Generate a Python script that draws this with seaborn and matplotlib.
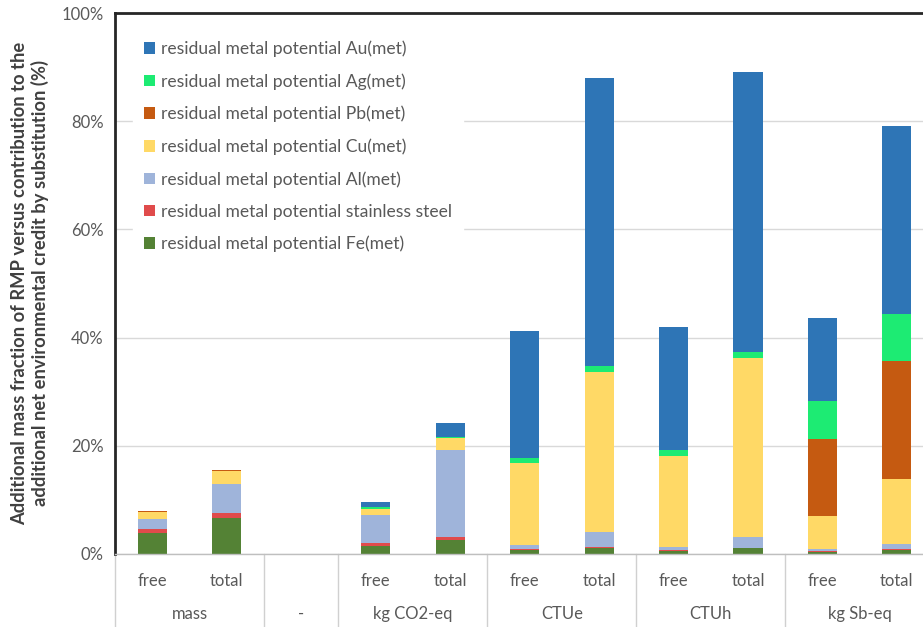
import numpy as np
import pandas as pd
import seaborn as sns
import matplotlib.pyplot as plt
from matplotlib.patches import Patch
from matplotlib.transforms import blended_transform_factory

# categories (one slot per bar, the "-" group has a single empty slot)
groups = ["mass", "-", "kg CO2-eq", "CTUe", "CTUh", "kg Sb-eq"]
group_slots = [["free", "total"], [""], ["free", "total"], ["free", "total"],
               ["free", "total"], ["free", "total"]]

# stacked shares in %, bottom to top
fe = [3.9, 6.6, 0, 1.5, 2.5, 0.7, 1.2, 0.55, 1.1, 0.3, 0.8]
ss = [0.8, 0.9, 0, 0.5, 0.6, 0.2, 0.1, 0.1, 0.1, 0.3, 0.2]
al = [1.8, 5.4, 0, 5.15, 16.1, 0.7, 2.7, 0.65, 2.0, 0.3, 0.85]
cu = [1.3, 2.5, 0, 1.15, 2.2, 15.2, 29.7, 16.8, 33.0, 6.1, 11.95]
pb = [0.1, 0.2, 0, 0, 0, 0, 0, 0, 0, 14.2, 21.9]
ag = [0, 0, 0, 0.3, 0.3, 0.9, 1.1, 1.1, 1.1, 7.1, 8.6]
au = [0, 0, 0, 1.0, 2.5, 23.5, 53.2, 22.8, 51.8, 15.4, 34.8]

series = ["residual metal potential Fe(met)",
          "residual metal potential stainless steel",
          "residual metal potential Al(met)",
          "residual metal potential Cu(met)",
          "residual metal potential Pb(met)",
          "residual metal potential Ag(met)",
          "residual metal potential Au(met)"]
colors = ["#548235", "#E04B4B", "#9FB4DA", "#FFD966", "#C55A11", "#1DEB73", "#2E75B6"]
yticks = [0, 20, 40, 60, 80, 100]

sns.set_theme(style="white")
plt.rcParams["font.family"] = ["Lato", "DejaVu Sans"]
txt_c = "#595959"

slot_keys = []
for g, subs in zip(groups, group_slots):
    for s in subs:
        slot_keys.append(g + "|" + s)

df = pd.DataFrame({"slot": slot_keys})
stack = np.array([fe, ss, al, cu, pb, ag, au])
cum = np.cumsum(stack, axis=0)

fig = plt.figure(figsize=(9.23, 6.27), dpi=100)
ax = fig.add_axes([115 / 923, 73 / 627, 808 / 923, 541 / 627])

# draw cumulative heights from the top down so each layer covers the one above
for i in range(len(series) - 1, -1, -1):
    df["v"] = cum[i]
    sns.barplot(data=df, x="slot", y="v", order=slot_keys, color=colors[i],
                saturation=1, width=0.39, ax=ax, errorbar=None, linewidth=0)

ax.set_xlim(-0.5, 10.35)
ax.set_ylim(0, 100)
ax.set_yticks(yticks)
ax.set_yticklabels([f"{t}%" for t in yticks], color=txt_c, fontsize=12)
ax.yaxis.grid(True, color="#D9D9D9", linewidth=1)
ax.set_axisbelow(True)
ax.tick_params(axis="y", length=0, pad=8)
ax.tick_params(axis="x", length=0, pad=14)

sub_labels = [s for subs in group_slots for s in subs]
ax.set_xticks(range(len(slot_keys)))
ax.set_xticklabels(sub_labels, color=txt_c, fontsize=12)
ax.set_xlabel("")

for sp in ["left", "top"]:
    ax.spines[sp].set_color("#262626")
    ax.spines[sp].set_linewidth(2)
ax.spines["right"].set_visible(False)
ax.spines["bottom"].set_color("#BFBFBF")
ax.spines["bottom"].set_linewidth(1)

ax.set_ylabel("Additional mass fraction of RMP versus contribution to the\n"
              "additional net environmental credit by substitution (%)",
              fontsize=13.2, fontweight="bold", color="#404040", labelpad=9,
              linespacing=1.2)

# category table below the axis
trans = blended_transform_factory(ax.transData, ax.transAxes)
pos = 0
edges = [-0.5]
for g, subs in zip(groups, group_slots):
    n = len(subs)
    ax.text(pos + (n - 1) / 2, -0.111, g, transform=trans, ha="center",
            va="center", color=txt_c, fontsize=12)
    pos += n
    edges.append(pos - 0.5)
for e in edges:
    ax.plot([e, e], [0, -0.14], transform=trans, color="#D0D0D0",
            linewidth=1, clip_on=False)

handles = [Patch(facecolor=colors[i], edgecolor="none", label=series[i])
           for i in range(len(series) - 1, -1, -1)]
leg = ax.legend(handles=handles, loc="upper left", bbox_to_anchor=(0.012, 0.985),
                frameon=True, fontsize=12.6, handlelength=0.65, handleheight=0.65,
                handletextpad=0.35, labelspacing=0.92, borderpad=0.6,
                labelcolor=txt_c)
leg.get_frame().set_facecolor("white")
leg.get_frame().set_edgecolor("white")
leg.get_frame().set_alpha(1)
leg.get_frame().set_boxstyle("square", pad=0)

fig.savefig("out.png", dpi=100)
